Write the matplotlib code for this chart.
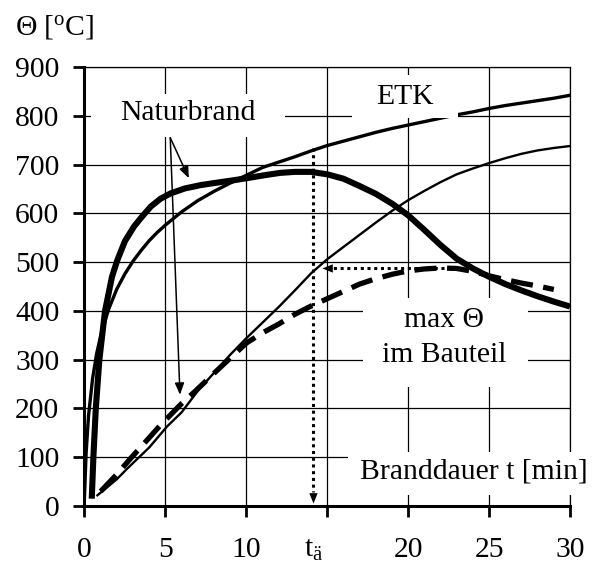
import matplotlib
matplotlib.use("Agg")
import matplotlib.pyplot as plt
from matplotlib.patches import Rectangle

plt.rcParams['font.family'] = ['Liberation Serif', 'DejaVu Serif']
plt.rcParams['mathtext.fontset'] = 'custom'
plt.rcParams['mathtext.rm'] = 'Liberation Serif'
plt.rcParams['mathtext.it'] = 'Liberation Serif:italic'

# Einheits-Temperaturzeitkurve (ETK)
t_etk = [0, 0.1, 0.25, 0.5, 0.75, 1, 1.25, 1.5, 2, 2.5, 3, 3.5, 4, 4.5, 5, 6, 7, 8, 9, 10,
         11, 12, 13, 14, 15, 16, 17, 18, 19, 20, 21, 22, 23, 24, 25, 26, 27, 28, 29, 30]
th_etk = [20, 108, 185, 261, 312, 349, 377, 404, 445, 476, 502, 524, 544, 561, 576, 603, 626,
          645, 662, 678, 694, 705, 716, 728, 739, 748, 757, 766, 774, 781, 788, 795, 802, 808,
          815, 821, 826, 831, 836, 842]

# Naturbrand
t_nat = [0.45, 0.55, 0.7, 0.92, 1.27, 1.7, 2.03, 2.5, 3.06, 3.5, 4.1, 4.7, 5.33, 6.2,
         7.2, 8.2, 9.25, 10.2, 11.1, 12.1, 13, 14, 15, 16, 17, 18, 19, 20, 21, 22, 23, 24, 25,
         26, 27, 28, 29, 30]
th_nat = [15, 100, 200, 300, 400, 470, 504, 543, 573, 591, 614, 630, 641, 651, 658, 663,
          668, 673, 678, 683, 685, 685, 680, 671, 656, 640, 620, 596, 566, 535, 507, 487, 470,
          455, 442, 430, 419, 409]

# Bauteiltemperatur unter ETK
t_bt_etk = [0.8, 2, 2.65, 4, 5.1, 6, 7, 7.6, 9, 10, 11, 12, 13, 14, 15, 16, 17, 18, 19, 20,
            21, 22, 23, 24, 25, 26, 27, 28, 29, 30]
th_bt_etk = [22, 55, 77, 120, 163, 192, 236, 258, 310, 344, 376, 408, 442, 477, 506, 531, 556,
             581, 605, 627, 646, 664, 680, 692, 703, 713, 722, 729, 734, 738]

# Bauteiltemperatur unter Naturbrand
t_bt_nat = [1, 2, 2.86, 4, 4.7, 6, 6.8, 8, 9, 10, 11, 12, 13, 14, 15, 16, 17, 18, 19, 20, 21,
            22, 23, 24, 25, 26, 27, 28, 29]
th_bt_nat = [30, 65, 98, 140, 166, 210, 234, 272, 303, 334, 355, 373, 393, 410, 425, 440, 455,
             466, 475, 482, 486, 488, 487, 481, 472, 464, 457, 451, 444]

# Zeitpunkt der maximalen Bauteiltemperatur
t_a = 14.15
th_max = 487
th_etk_ta = 734

x_ticks = [0, 5, 10, 15, 20, 25, 30]
x_labels = ['0', '5', '10', '', '20', '25', '30']
y_ticks = [0, 100, 200, 300, 400, 500, 600, 700, 800, 900]

fig = plt.figure(figsize=(5.97, 5.63), dpi=100)
ax = fig.add_axes([0.1415, 0.1012, 0.8133, 0.7798])
ax.set_xlim(0, 30)
ax.set_ylim(0, 900)

FS = 21.3
ax.set_xticks(x_ticks)
ax.set_xticklabels(x_labels, fontsize=FS)
ax.set_xticks([t_a], minor=True)
ax.set_xticklabels([r'$\mathregular{t_{ä}}$'], minor=True, fontsize=FS)
ax.set_yticks(y_ticks)
ax.set_yticklabels([str(v) for v in y_ticks], fontsize=FS)
ax.tick_params(axis='both', which='major', direction='out', length=8, width=2, color='black')
ax.tick_params(axis='x', which='major', pad=14)
ax.tick_params(axis='x', which='minor', length=0, pad=22)
ax.tick_params(axis='y', pad=10)

for s in ['left', 'bottom']:
    ax.spines[s].set_linewidth(2.2)
for s in ['top', 'right']:
    ax.spines[s].set_linewidth(0.9)

ax.grid(True, which='major', color='black', linewidth=0.9, zorder=1)
ax.set_axisbelow(True)

# Kurven
ax.plot(t_etk, th_etk, color='black', lw=2.4, zorder=3)
ax.plot(t_nat, th_nat, color='black', lw=4.4, zorder=3, solid_capstyle='butt')
ax.plot(t_bt_etk, th_bt_etk, color='black', lw=1.7, zorder=3)
ax.plot(t_bt_nat, th_bt_nat, color='black', lw=3.8, zorder=3,
        dashes=(4.2, 2.0), dash_capstyle='butt')

# Gepunktete Hilfslinien mit Pfeilspitzen
ax.plot([t_a, t_a], [th_etk_ta, 28], color='black', lw=2.2, ls=(0, (1, 1.2)), zorder=4)
ax.annotate('', xy=(t_a, 5), xytext=(t_a, 40),
            arrowprops=dict(arrowstyle='-|>,head_length=0.75,head_width=0.3',
                            lw=0, color='black', shrinkA=0, shrinkB=0), zorder=4)
ax.plot([22.2, t_a + 1.2], [th_max, th_max], color='black', lw=2.2, ls=(0, (1, 1.2)), zorder=4)
ax.annotate('', xy=(t_a + 0.55, th_max), xytext=(t_a + 2.5, th_max),
            arrowprops=dict(arrowstyle='-|>,head_length=0.75,head_width=0.3',
                            lw=0, color='black', shrinkA=0, shrinkB=0), zorder=4)

# Beschriftungsfelder
boxes = [
    (0.4, 757, 12.0, 88),
    (16.55, 796, 6.5, 88),
    (17.2, 244, 10.2, 182),
    (16.3, 23, 14.2, 88),
]
for x0, y0, w, h in boxes:
    ax.add_patch(Rectangle((x0, y0), w, h, facecolor='white', edgecolor='none',
                           zorder=5, clip_on=False))

ax.text(6.4, 805, 'Naturbrand', fontsize=FS, ha='center', va='center', zorder=6)
ax.text(19.8, 838, 'ETK', fontsize=FS, ha='center', va='center', zorder=6)
ax.text(22.2, 381, 'max Θ', fontsize=FS, ha='center', va='center', zorder=6)
ax.text(22.2, 309, 'im Bauteil', fontsize=FS, ha='center', va='center', zorder=6)
ax.text(24.05, 70, 'Branddauer t [min]', fontsize=FS, ha='center', va='center', zorder=6)

# Pfeile zur Beschriftung "Naturbrand"
for tip in [(6.45, 672), (5.9, 228)]:
    ax.annotate('', xy=tip, xytext=(5.3, 755),
                arrowprops=dict(arrowstyle='-|>,head_length=0.7,head_width=0.28',
                                lw=1.1, color='black', shrinkA=0, shrinkB=0), zorder=6)

fig.text(0.025, 0.952, r'Θ [$^{\mathregular{o}}$C]', fontsize=FS, ha='left', va='center')

fig.savefig('out.png', dpi=100)
